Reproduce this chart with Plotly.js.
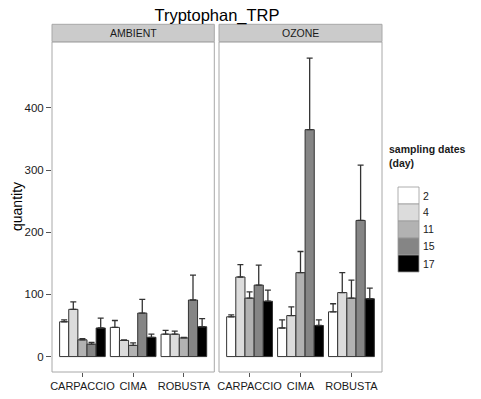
<!DOCTYPE html>
<html>
<head>
<meta charset="utf-8">
<script src="https://cdn.plot.ly/plotly-3.0.1.min.js"></script>
<style>html,body{margin:0;padding:0;background:#fff;}#chart{width:481px;height:399px;}</style>
</head>
<body>
<div id="chart"></div>
<script>
// ---- data ----
var varieties = ["CARPACCIO", "CIMA", "ROBUSTA"];
var panels = ["AMBIENT", "OZONE"];
var days = ["2", "4", "11", "15", "17"];
var dayColors = ["#ffffff", "#dcdcdc", "#b2b2b2", "#858585", "#000000"];

// mean values: [day][variety]
var ambientMean = [
  [56, 47, 36],
  [76, 26, 36],
  [27, 18, 30],
  [20, 70, 91],
  [46, 31, 48]
];
var ambientUpper = [
  [59, 58, 42],
  [88, 27, 41],
  [29, 22, 31],
  [23, 92, 131],
  [62, 36, 61]
];
var ozoneMean = [
  [64, 46, 72],
  [128, 66, 103],
  [94, 135, 94],
  [115, 365, 219],
  [89, 50, 93]
];
var ozoneUpper = [
  [67, 59, 85],
  [148, 80, 135],
  [104, 169, 123],
  [147, 480, 308],
  [107, 59, 110]
];

// ---- geometry ----
var W = 481, H = 399;
var M = {l: 52, r: 99, t: 42, b: 27};
var PW = W - M.l - M.r, PH = H - M.t - M.b;
function pxX(px) { return (px - M.l) / PW; }
function pxY(py) { return (H - M.b - py) / PH; }

var traces = [];
function addPanel(means, uppers, xa) {
  for (var d = 0; d < days.length; d++) {
    var plus = [];
    for (var v = 0; v < varieties.length; v++) plus.push(uppers[d][v] - means[d][v]);
    traces.push({
      type: "bar",
      x: varieties,
      y: means[d],
      xaxis: xa,
      yaxis: "y",
      name: days[d],
      showlegend: false,
      marker: {color: dayColors[d], line: {color: "#333333", width: 1}},
      error_y: {type: "data", symmetric: false, array: plus, arrayminus: plus.map(function(){return 0;}),
                color: "#333333", thickness: 1.3, width: 3},
      hoverinfo: "skip"
    });
  }
}
addPanel(ambientMean, ambientUpper, "x");
addPanel(ozoneMean, ozoneUpper, "x2");

var font = "Liberation Sans, Arial, sans-serif";
var d1 = [0, pxX(214.3)], d2 = [pxX(219), 1];

var shapes = [], annotations = [];
// panel borders + strips
[["x", d1, panels[0]], ["x2", d2, panels[1]]].forEach(function(p) {
  shapes.push({type: "rect", xref: "paper", yref: "paper", x0: p[1][0], x1: p[1][1], y0: 0, y1: 1,
               line: {color: "#a8a8a8", width: 1}, fillcolor: "rgba(0,0,0,0)", layer: "above"});
  shapes.push({type: "rect", xref: "paper", yref: "paper", x0: p[1][0], x1: p[1][1], y0: pxY(41.7), y1: pxY(24.3),
               line: {color: "#a8a8a8", width: 1}, fillcolor: "#cbcbcb"});
  annotations.push({xref: "paper", yref: "paper", x: (p[1][0] + p[1][1]) / 2, y: pxY(33), text: p[2],
                    showarrow: false, xanchor: "center", yanchor: "middle",
                    font: {family: font, size: 10.5, color: "#1a1a1a"}});
});

// y-axis title
annotations.push({xref: "paper", yref: "paper", x: pxX(17), y: pxY(207), text: "quantity", textangle: -90,
                  showarrow: false, xanchor: "center", yanchor: "middle",
                  font: {family: font, size: 14, color: "#000"}});

// legend
annotations.push({xref: "paper", yref: "paper", x: pxX(387), y: pxY(141), xanchor: "left", yanchor: "top",
                  align: "left", showarrow: false,
                  text: "<b>sampling dates</b><br><b>(day)</b>",
                  font: {family: font, size: 10.5, color: "#1a1a1a"}});
var keyTop = 187, keyH = 17;
for (var i = 0; i < days.length; i++) {
  shapes.push({type: "rect", xref: "paper", yref: "paper", x0: pxX(398), x1: pxX(419), y0: pxY(keyTop + keyH * (i + 1)), y1: pxY(keyTop + keyH * i),
               fillcolor: dayColors[i], line: {color: "#9a9a9a", width: 0.8}});
  annotations.push({xref: "paper", yref: "paper", x: pxX(421), y: pxY(keyTop + keyH * (i + 0.5)), xanchor: "left", yanchor: "middle",
                    showarrow: false, text: days[i], font: {family: font, size: 10.5, color: "#1a1a1a"}});
}

var xcommon = {
  type: "category", range: [-0.6, 2.6], showgrid: false, zeroline: false, showline: false,
  ticks: "outside", ticklen: 4, tickcolor: "#555", tickwidth: 1,
  tickfont: {family: font, size: 11, color: "#1a1a1a"}, anchor: "y", fixedrange: true
};

var layout = {
  width: W, height: H,
  margin: M,
  paper_bgcolor: "#ffffff", plot_bgcolor: "#ffffff",
  barmode: "group", bargap: 0.1, bargroupgap: 0,
  showlegend: false,
  title: {text: "Tryptophan_TRP", x: 0.5, xref: "paper", xanchor: "center", y: 1 - 15 / H, yanchor: "middle",
          font: {family: font, size: 16.5, color: "#000"}},
  xaxis: Object.assign({}, xcommon, {domain: d1}),
  xaxis2: Object.assign({}, xcommon, {domain: d2}),
  yaxis: {
    range: [-24.8, 506], tickvals: [0, 100, 200, 300, 400], showgrid: false, zeroline: false, showline: false,
    ticks: "outside", ticklen: 5, tickcolor: "#555", tickwidth: 1,
    tickfont: {family: font, size: 11.5, color: "#1a1a1a"},
    automargin: false, fixedrange: true
  },
  shapes: shapes,
  annotations: annotations
};

Plotly.newPlot("chart", traces, layout, {staticPlot: true, displayModeBar: false});
</script>
</body>
</html>
